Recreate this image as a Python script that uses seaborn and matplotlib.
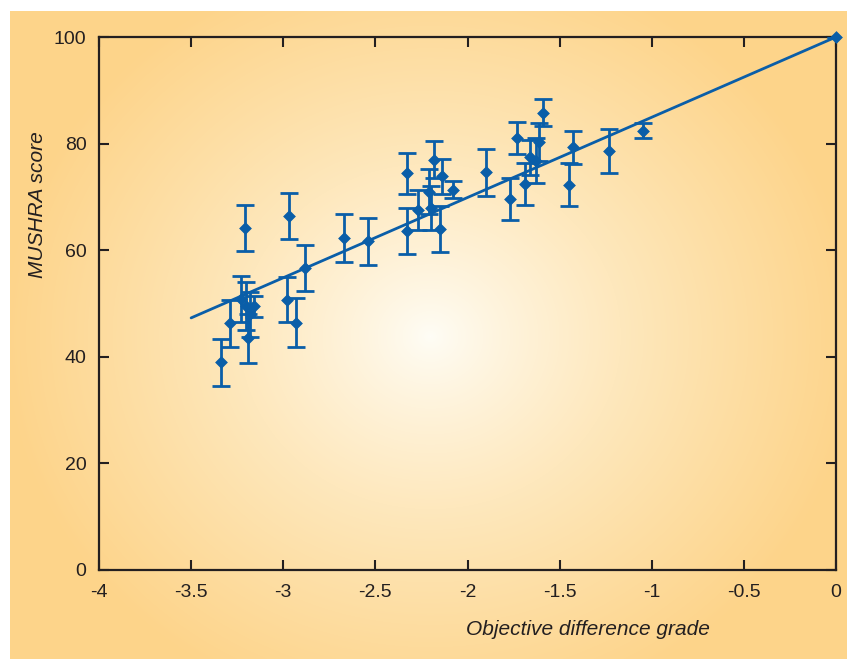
import numpy as np
import pandas as pd
import seaborn as sns
import matplotlib.pyplot as plt
from matplotlib.colors import LinearSegmentedColormap

# Objective difference grade vs MUSHRA score, with confidence intervals
odg = [-3.34, -3.29, -3.21, -3.23, -3.20, -3.18, -3.16, -3.19,
       -2.97, -2.88, -2.98, -2.93, -2.67, -2.54,
       -2.33, -2.33, -2.27, -2.21, -2.20, -2.18, -2.14, -2.15, -2.08,
       -1.90, -1.77, -1.73, -1.69, -1.66, -1.63, -1.61, -1.59,
       -1.45, -1.43, -1.23, -1.05, 0.0]
mushra = [39.0, 46.3, 64.2, 50.8, 49.5, 48.0, 49.5, 43.5,
          66.4, 56.7, 50.7, 46.4, 62.2, 61.7,
          74.4, 63.6, 67.5, 71.0, 67.9, 77.0, 73.9, 64.0, 71.3,
          74.6, 69.6, 81.0, 72.4, 77.4, 76.8, 80.3, 85.8,
          72.3, 79.3, 78.6, 82.4, 100.0]
ci = [4.4, 4.4, 4.3, 4.3, 4.5, 4.2, 2.0, 4.6,
      4.3, 4.3, 4.2, 4.6, 4.5, 4.4,
      3.9, 4.4, 3.8, 4.2, 4.2, 3.5, 3.3, 4.3, 1.6,
      4.4, 4.0, 3.0, 3.9, 3.3, 4.2, 3.5, 2.5,
      4.0, 3.1, 4.1, 1.4, 0.0]

# regression line end points
fit_x = [-3.5, 0.0]
fit_y = [47.3, 100.0]

x_ticks = [-4, -3.5, -3, -2.5, -2, -1.5, -1, -0.5, 0]
x_tick_labels = ['-4', '-3.5', '-3', '-2.5', '-2', '-1.5', '-1', '-0.5', '0']
y_ticks = [0, 20, 40, 60, 80, 100]

data = pd.DataFrame({'odg': odg, 'mushra': mushra, 'ci': ci})
fit = pd.DataFrame({'odg': fit_x, 'mushra': fit_y})

sns.set_style('ticks')
plt.rcParams['font.family'] = ['Liberation Sans', 'DejaVu Sans']

blue = '#0a5ea8'
ink = '#231f20'

fig = plt.figure(figsize=(8.47, 6.59), dpi=100)
fig.patch.set_facecolor('white')

# radial gradient panel behind the chart
bg = fig.add_axes([10 / 847, 0, 1 - 10 / 847, 1 - 11 / 659], zorder=-1)
W, H = 837, 648
gx, gy = np.meshgrid(np.arange(W), np.arange(H))
r = np.sqrt(((gx - 420) / 430.0) ** 2 + ((gy - 325) / 390.0) ** 2)
r = np.clip(r, 0, 1) ** 0.85
cmap = LinearSegmentedColormap.from_list('glow', ['#fffdf6', '#fee8bd', '#fdd48a'])
bg.imshow(r, cmap=cmap, vmin=0, vmax=1, aspect='auto', interpolation='bilinear')
bg.set_axis_off()

ax = fig.add_axes([99 / 847, 1 - 570 / 659, (836 - 99) / 847, (570 - 37) / 659])
ax.patch.set_alpha(0)

sns.lineplot(data=fit, x='odg', y='mushra', ax=ax, color=blue, linewidth=2.0, zorder=3)
ax.errorbar(data['odg'], data['mushra'], yerr=data['ci'], fmt='none',
            ecolor=blue, elinewidth=2.0, capsize=6.5, capthick=2.0, zorder=4)
sns.scatterplot(data=data, x='odg', y='mushra', ax=ax, marker='D', s=36,
                color=blue, edgecolor=blue, linewidth=0.5, zorder=5, clip_on=False)

ax.set_xlim(-4, 0)
ax.set_ylim(0, 100)
ax.set_xticks(x_ticks)
ax.set_xticklabels(x_tick_labels)
ax.set_yticks(y_ticks)
ax.tick_params(direction='in', length=7, width=1.5, colors=ink, labelsize=14,
               top=True, right=True, pad=10)
ax.tick_params(axis='y', pad=9)
for s in ax.spines.values():
    s.set_color(ink)
    s.set_linewidth(1.6)

ax.set_xlabel('Objective difference grade', fontsize=15, style='italic', color=ink)
ax.set_ylabel('MUSHRA score', fontsize=15, style='italic', color=ink)
ax.xaxis.set_label_coords(0.6635, -0.093)
ax.yaxis.set_label_coords(-0.071, 0.685)

plt.savefig('out.png', dpi=100)
plt.close()
